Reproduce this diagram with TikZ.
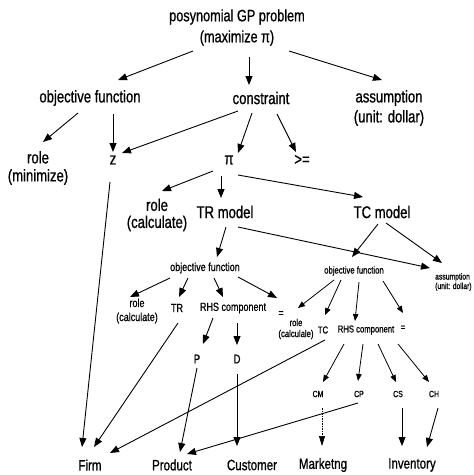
\documentclass[tikz,border=0pt]{standalone}
\usepackage{fontspec}
\setmainfont{Liberation Sans}
\newfontfamily\nf{Liberation Sans}[FakeStretch=0.77,FakeBold=0.8]
\usetikzlibrary{arrows.meta}
\begin{document}
\begin{tikzpicture}[x=1pt,y=-1pt,
  lbl/.style={inner sep=0pt, align=center},
  big/.style={lbl, font=\fontsize{17}{18}\selectfont\nf},
  bigt/.style={lbl, font=\fontsize{16.5}{21}\selectfont\nf},
  bot/.style={lbl, font=\fontsize{15}{18}\selectfont\nf},
  med/.style={lbl, font=\fontsize{11.7}{15}\selectfont\nf},
  sml/.style={lbl, font=\fontsize{10}{11}\selectfont\nf},
  tny/.style={lbl, font=\fontsize{9}{10}\selectfont\nf},
  arr/.style={line width=0.9pt, -{Triangle[length=9pt,width=7pt]}},
  arrs/.style={line width=0.8pt, -{Triangle[length=7pt,width=5.5pt]}}
]
\useasboundingbox[fill=white] (0,0) rectangle (474,475);
% nodes
\node[bigt] (top) at (237,27.5) {posynomial GP problem\\(maximize π)};
\node[big] (obj) at (90,98) {objective function};
\node[big] (con) at (261,98) {constraint};
\node[big,font=\fontsize{17}{20}\selectfont\nf] (asm) at (389,108) {assumption\\(unit: dollar)};
\node[big] (rmin) at (38,168) {role\\(minimize)};
\node[big] (z) at (113,160) {z};
\node[big] (pi) at (229,160) {π};
\node[big] (ge) at (302,160) {>=};
\node[big,font=\fontsize{17}{17}\selectfont\nf] (rcalc) at (157,215) {role\\(calculate)};
\node[big] (trm) at (225,212) {TR model};
\node[big] (tcm) at (382,212) {TC model};
\node[med] (tro) at (205,268) {objective function};
\node[sml] (tco) at (354,271) {objective function};
\node[lbl,font=\fontsize{8.8}{9.5}\selectfont\nf,anchor=west,align=left] (asm2) at (435,282) {assumption\\(unit: dollar)};
\node[med,font=\fontsize{11.7}{14}\selectfont\nf] (rcalc2) at (137,311) {role\\(calculate)};
\node[med] (tr) at (177,308) {TR};
\node[med] (rhs1) at (233,308) {RHS component};
\node[med] (eq1) at (281,314) {=};
\node[sml] (rcalc3) at (296,329) {role\\(calculale)};
\node[sml] (tc) at (323,330) {TC};
\node[sml] (rhs2) at (366,330) {RHS component};
\node[sml] (eq2) at (403,328) {=};
\node[med,font=\fontsize{12.5}{14}\selectfont\nf] (P) at (197,359) {P};
\node[med,font=\fontsize{12.5}{14}\selectfont\nf] (D) at (237,359) {D};
\node[tny] (CM) at (318,394) {CM};
\node[tny] (CP) at (359,394) {CP};
\node[tny] (CS) at (398,394) {CS};
\node[tny] (CH) at (434,394) {CH};
\node[bot] (firm) at (90,465) {Firm};
\node[bot] (prod) at (172,465) {Product};
\node[bot] (cust) at (252,465) {Customer};
\node[bot] (mkt) at (323,465) {Marketng};
\node[bot] (inv) at (412,465) {Inventory};
% connectors
\draw[arr] ([shift={(-44,23.5)}]top.center) -- ([shift={(28,-18)}]obj.center);
\draw[arr] ([shift={(12,29.5)}]top.center) -- ([shift={(-12,-13)}]con.center);
\draw[arr] ([shift={(52,23.5)}]top.center) -- ([shift={(-7,-28)}]asm.center);
\draw[arr] ([shift={(-12,15)}]obj.center) -- ([shift={(5,-26)}]rmin.center);
\draw[arr] ([shift={(23,16)}]obj.center) -- ([shift={(0,-8)}]z.center);
\draw[arr] ([shift={(-23,13)}]con.center) -- ([shift={(9,-7)}]z.center);
\draw[arr] ([shift={(-9,15)}]con.center) -- ([shift={(9,-7)}]pi.center);
\draw[arr] ([shift={(16,16)}]con.center) -- ([shift={(-6,-8)}]ge.center);
\draw[arr] ([shift={(-16,11)}]pi.center) -- ([shift={(5,-24)}]rcalc.center);
\draw[arr] ([shift={(-8,16)}]pi.center) -- ([shift={(-4,-14)}]trm.center);
\draw[arr] ([shift={(9,15)}]pi.center) -- ([shift={(-19,-15)}]tcm.center);
\draw[arr] ([shift={(-3,22)}]z.center) -- ([shift={(-8,-18)}]firm.center);
\draw[arr] ([shift={(1,15)}]trm.center) -- ([shift={(12,-11)}]tro.center);
\draw[arr] ([shift={(13,15)}]trm.center) -- ([shift={(-5,-14)}]asm2.west);
\draw[arr] ([shift={(-4,12)}]tcm.center) -- ([shift={(-2,-14)}]tco.center);
\draw[arr] ([shift={(4,11)}]tcm.center) -- ([shift={(7,-19)}]asm2.west);
\draw[arr] ([shift={(-35,10)}]tro.center) -- ([shift={(-7,-14)}]rcalc2.center);
\draw[arr] ([shift={(-17,10)}]tro.center) -- ([shift={(2,-11)}]tr.center);
\draw[arr] ([shift={(9,10)}]tro.center) -- ([shift={(-10,-11)}]rhs1.center);
\draw[arr] ([shift={(33,9)}]tro.center) -- ([shift={(-4,-16)}]eq1.center);
\draw[arrs] ([shift={(-20,9)}]tco.center) -- ([shift={(2,-21)}]rcalc3.center);
\draw[arrs] ([shift={(-13,9)}]tco.center) -- ([shift={(2,-15)}]tc.center);
\draw[arrs] ([shift={(5,11)}]tco.center) -- ([shift={(-11,-9)}]rhs2.center);
\draw[arrs] ([shift={(29,10)}]tco.center) -- ([shift={(0,-15)}]eq2.center);
\draw[arr] ([shift={(-20,10)}]rhs1.center) -- ([shift={(6,-15)}]P.center);
\draw[arr] ([shift={(4,15)}]rhs1.center) -- ([shift={(0,-14)}]D.center);
\draw[arr] ([shift={(1,15)}]tr.center) -- ([shift={(4,-18)}]firm.center);
\draw[arr] ([shift={(0,9)}]P.center) -- ([shift={(8,-13)}]prod.center);
\draw[arr] ([shift={(0,15)}]D.center) -- ([shift={(-15,-19)}]cust.center);
\draw[arr] ([shift={(2,10)}]tc.center) -- ([shift={(20,-12)}]firm.center);
\draw[arrs] ([shift={(-22,14)}]rhs2.center) -- ([shift={(5,-12)}]CM.center);
\draw[arrs] ([shift={(-3,14)}]rhs2.center) -- ([shift={(-1,-13)}]CP.center);
\draw[arrs] ([shift={(12,14)}]rhs2.center) -- ([shift={(-2,-12)}]CS.center);
\draw[arrs] ([shift={(32,14)}]rhs2.center) -- ([shift={(-5,-12)}]CH.center);
\draw[line width=0.6pt, dash pattern=on 1.5pt off 1pt, -{Triangle[length=10pt,width=6pt]}] ([shift={(4,14)}]CM.center) -- ([shift={(-1,-19)}]mkt.center);
\draw[arr] ([shift={(-1,9)}]CP.center) -- ([shift={(15,-11)}]prod.center);
\draw[arr] ([shift={(4,14)}]CS.center) -- ([shift={(-10,-19)}]inv.center);
\draw[arr] ([shift={(4,14)}]CH.center) -- ([shift={(15,-18)}]inv.center);
\end{tikzpicture}
\end{document}
